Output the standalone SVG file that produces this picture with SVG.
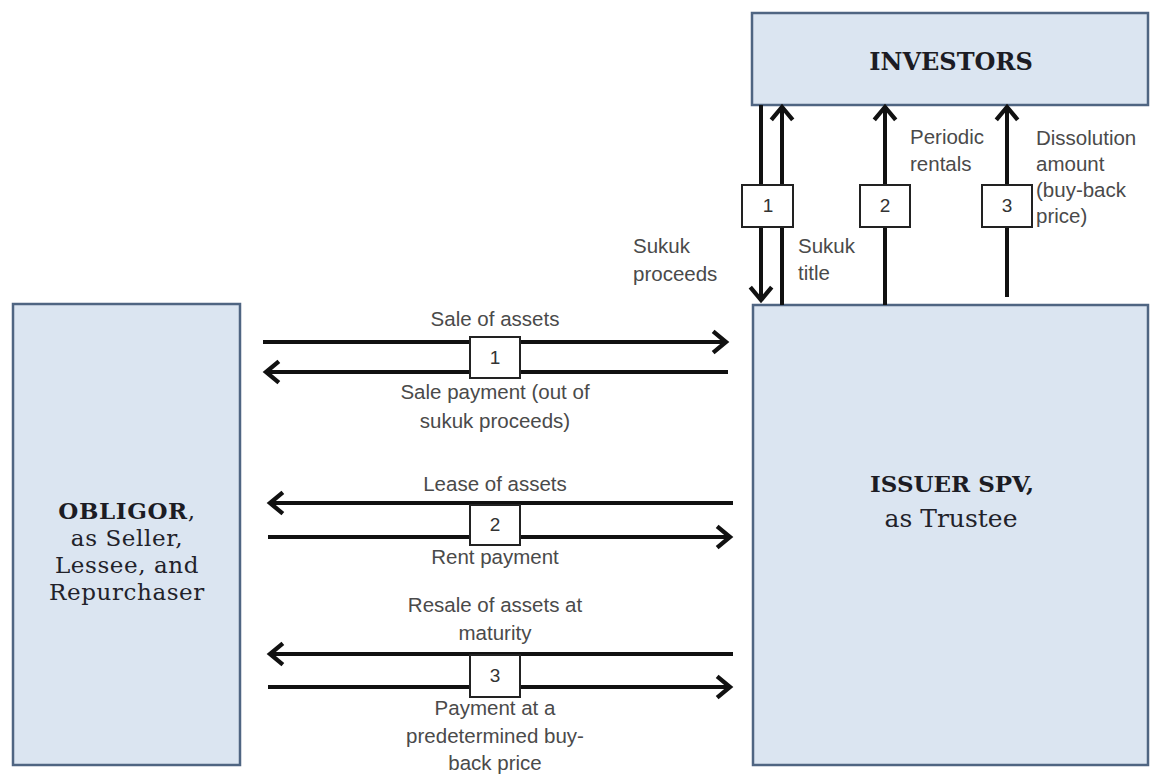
<svg xmlns="http://www.w3.org/2000/svg" width="1150" height="775" viewBox="0 0 1150 775">
<style>
.node{fill:#dbe5f1;stroke:#4f6582;stroke-width:2.5}
.ntitle{font-family:"DejaVu Serif",serif;font-weight:bold;fill:#1c1c24}
.nsub{font-family:"DejaVu Serif",serif;font-size:25px;fill:#22222a}
.obl{font-family:"DejaVu Serif",serif;font-size:23px;fill:#22222a;letter-spacing:0.6px}
.lbl{font-family:"Liberation Sans",Arial,sans-serif;font-size:20.5px;fill:#4a4a4a}
.num{font-family:"Liberation Sans",Arial,sans-serif;font-size:19px;fill:#333;text-anchor:middle}
.ln{stroke:#111;stroke-width:4;fill:none}
.nb{fill:#fff;stroke:#222;stroke-width:2}
</style>
<defs>
<marker id="ah" markerUnits="userSpaceOnUse" markerWidth="30" markerHeight="30" viewBox="-16 -14 20 28" refX="0" refY="0" orient="auto">
<path d="M-12,-10 L0,0 L-12,10" fill="none" stroke="#111" stroke-width="4"/>
</marker>
</defs>
<rect width="1150" height="775" fill="#fff"/>
<g id="investors">
<rect class="node" x="752" y="13" width="396" height="92"/>
<text class="ntitle" x="951" y="70" text-anchor="middle" font-size="24">INVESTORS</text>
</g>
<g id="obligor">
<rect class="node" x="13" y="304" width="227" height="461"/>
<text class="obl" x="127" y="519" text-anchor="middle"><tspan font-weight="bold" fill="#1c1c24">OBLIGOR</tspan>,</text>
<text class="obl" x="127" y="546" text-anchor="middle">as Seller,</text>
<text class="obl" x="127" y="573" text-anchor="middle">Lessee, and</text>
<text class="obl" x="127" y="600" text-anchor="middle">Repurchaser</text>
</g>
<g id="issuer">
<rect class="node" x="753" y="305" width="395" height="460"/>
<text class="ntitle" x="952" y="492" text-anchor="middle" font-size="23">ISSUER SPV,</text>
<text class="nsub" x="951" y="527" text-anchor="middle">as Trustee</text>
</g>
<g id="connectors">
<line class="ln" x1="761" y1="105" x2="761" y2="300" marker-end="url(#ah)"/>
<line class="ln" x1="782" y1="305" x2="782" y2="107" marker-end="url(#ah)"/>
<line class="ln" x1="885" y1="305" x2="885" y2="107" marker-end="url(#ah)"/>
<line class="ln" x1="1007" y1="297" x2="1007" y2="107" marker-end="url(#ah)"/>
<line class="ln" x1="263" y1="342" x2="726" y2="342" marker-end="url(#ah)"/>
<line class="ln" x1="728" y1="372" x2="266" y2="372" marker-end="url(#ah)"/>
<line class="ln" x1="733" y1="503" x2="270" y2="503" marker-end="url(#ah)"/>
<line class="ln" x1="268" y1="537" x2="730" y2="537" marker-end="url(#ah)"/>
<line class="ln" x1="733" y1="654" x2="270" y2="654" marker-end="url(#ah)"/>
<line class="ln" x1="268" y1="687" x2="730" y2="687" marker-end="url(#ah)"/>
<rect class="nb" x="742" y="185" width="51" height="42"/>
<text class="num" x="768" y="212">1</text>
<rect class="nb" x="860" y="185" width="50" height="42"/>
<text class="num" x="885" y="212">2</text>
<rect class="nb" x="982" y="185" width="50" height="42"/>
<text class="num" x="1007" y="212">3</text>
<rect class="nb" x="470" y="337" width="50" height="41"/>
<text class="num" x="495" y="364">1</text>
<rect class="nb" x="470" y="505" width="50" height="40"/>
<text class="num" x="495" y="531">2</text>
<rect class="nb" x="470" y="655" width="50" height="42"/>
<text class="num" x="495" y="682">3</text>
<text class="lbl" x="910" y="144">Periodic</text>
<text class="lbl" x="910" y="171">rentals</text>
<text class="lbl" x="1036" y="145">Dissolution</text>
<text class="lbl" x="1036" y="171">amount</text>
<text class="lbl" x="1036" y="197">(buy-back</text>
<text class="lbl" x="1036" y="223">price)</text>
<text class="lbl" x="633" y="253">Sukuk</text>
<text class="lbl" x="633" y="281">proceeds</text>
<text class="lbl" x="798" y="253">Sukuk</text>
<text class="lbl" x="798" y="280">title</text>
<g text-anchor="middle">
<text class="lbl" x="495" y="326">Sale of assets</text>
<text class="lbl" x="495" y="399">Sale payment (out of</text>
<text class="lbl" x="495" y="428">sukuk proceeds)</text>
<text class="lbl" x="495" y="491">Lease of assets</text>
<text class="lbl" x="495" y="564">Rent payment</text>
<text class="lbl" x="495" y="612">Resale of assets at</text>
<text class="lbl" x="495" y="640">maturity</text>
<text class="lbl" x="495" y="715">Payment at a</text>
<text class="lbl" x="495" y="743">predetermined buy-</text>
<text class="lbl" x="495" y="770">back price</text>
</g>
</g>
</svg>
